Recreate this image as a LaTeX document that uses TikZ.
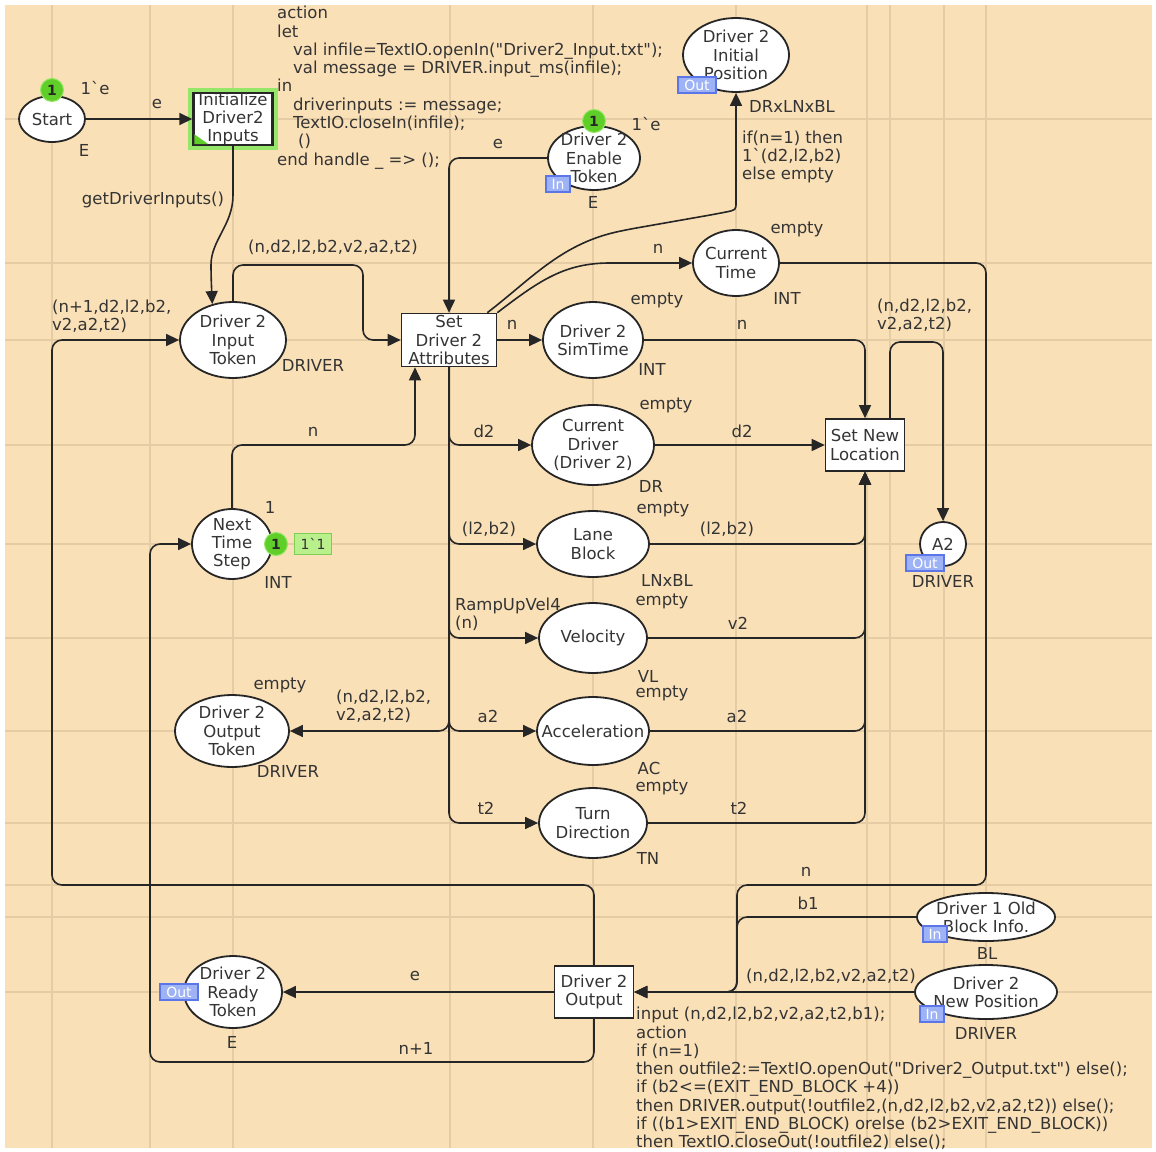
\documentclass[tikz,border=0pt]{standalone}
\usepackage{fontspec}
\setmainfont{DejaVu Sans}
\usetikzlibrary{arrows.meta,shapes.geometric}
\definecolor{paper}{RGB}{250,224,183}
\definecolor{guide}{RGB}{230,204,164}
\definecolor{ink}{RGB}{38,38,38}
\definecolor{txt}{RGB}{52,52,52}
\definecolor{tokgreen}{RGB}{96,206,40}
\definecolor{tokrim}{RGB}{150,230,100}
\definecolor{markfill}{RGB}{186,240,140}
\definecolor{markdraw}{RGB}{128,205,86}
\definecolor{portfill}{RGB}{158,178,246}
\definecolor{portdraw}{RGB}{92,118,232}
\definecolor{glow}{RGB}{150,230,105}
\begin{document}
\begin{tikzpicture}[x=1pt,y=-1pt,
  every node/.style={font=\fontsize{16.5}{18.3}\selectfont,text=txt,inner sep=0pt},
  place/.style={ellipse,draw=ink,line width=1.8pt,fill=white},
  trans/.style={rectangle,draw=ink,line width=1.6pt,fill=white},
  pname/.style={align=center},
  codetext/.style={align=left,anchor=north west},
  conn/.style={draw=ink,line width=1.6pt,rounded corners=10pt,-{Triangle[length=13pt,width=12pt]}},
  token/.style={circle,fill=tokgreen,draw=tokrim,line width=1pt,minimum size=23pt,font=\fontsize{14}{14}\selectfont\bfseries,text=black!85},
  mkbox/.style={rectangle,fill=markfill,draw=markdraw,line width=1pt,minimum width=37pt,minimum height=21pt,font=\fontsize{14}{14}\selectfont,text=black!80},
  port/.style={rectangle,fill=portfill,draw=portdraw,line width=1.2pt,minimum height=16pt,font=\fontsize{14}{14}\selectfont,text=white},
  portout/.style={port,minimum width=38pt},
  portin/.style={port,minimum width=24pt},
]
% sheet and alignment guides
\fill[white] (0,0) rectangle (1156,1151);
\fill[paper] (5,5) rectangle (1152,1148);
\begin{scope}
  \clip (5,5) rectangle (1152,1148);
  \foreach \gx in {52,150,233,450,593,736,867,890,944,986}
    \draw[guide,line width=1.2pt] (\gx,5) -- (\gx,1148);
  \foreach \gy in {119,263,340,445,544,638,731,823,885,917,992}
    \draw[guide,line width=1.2pt] (5,\gy) -- (1152,\gy);
\end{scope}

% places
\node[place,minimum width=66pt,minimum height=46pt,label={[pname]center:Start}] (start) at (52,119) {};
\node[place,minimum width=106pt,minimum height=74pt,label={[pname]center:Driver 2\\Initial\\Position}] (ip) at (736,55) {};
\node[place,minimum width=92pt,minimum height=64pt,label={[pname]center:Driver 2\\Enable\\Token}] (en) at (594,158) {};
\node[place,minimum width=106pt,minimum height=76pt,label={[pname]center:Driver 2\\Input\\Token}] (inp) at (233,340) {};
\node[place,minimum width=86pt,minimum height=66pt,label={[pname]center:Current\\Time}] (ct) at (736,263) {};
\node[place,minimum width=100pt,minimum height=76pt,label={[pname]center:Driver 2\\SimTime}] (sim) at (593,340) {};
\node[place,minimum width=122pt,minimum height=80pt,label={[pname]center:Current\\Driver\\(Driver 2)}] (cdrv) at (593,445) {};
\node[place,minimum width=112pt,minimum height=66pt,label={[pname]center:Lane\\Block}] (lane) at (593,544) {};
\node[place,minimum width=108pt,minimum height=70pt,label={[pname]center:Velocity}] (vel) at (593,638) {};
\node[place,minimum width=112pt,minimum height=68pt,label={[pname]center:Acceleration}] (acc) at (593,731) {};
\node[place,minimum width=108pt,minimum height=70pt,label={[pname]center:Turn\\Direction}] (turn) at (593,823) {};
\node[place,minimum width=46pt,minimum height=44pt,label={[pname]center:A2}] (a2) at (943,544) {};
\node[place,minimum width=80pt,minimum height=70pt,label={[pname]center:Next\\Time\\Step}] (nts) at (232,544) {};
\node[place,minimum width=114pt,minimum height=72pt,label={[pname]center:Driver 2\\Output\\Token}] (dot) at (232,731) {};
\node[place,minimum width=98pt,minimum height=72pt,label={[pname]center:Driver 2\\Ready\\Token}] (rdy) at (233,992) {};
\node[place,minimum width=138pt,minimum height=48pt,label={[pname]center:Driver 1 Old\\Block Info.}] (d1) at (986,917) {};
\node[place,minimum width=142pt,minimum height=54pt,label={[pname]center:Driver 2\\New Position}] (np) at (986,992) {};

% transitions
\node[trans,draw=glow,line width=5pt,minimum width=85pt,minimum height=57pt] (initglow) at (233,119) {};
\node[trans,line width=2.4pt,minimum width=79pt,minimum height=52pt] (init) at (233,119) {};
\fill[tokgreen] ([shift={(2,-2)}]init.south west) -- ++(14,0) -- ++(-14,-10) -- cycle;
\node[pname] (initname) at (233,119) {Initialize\\Driver2\\Inputs};
\node[trans,minimum width=95pt,minimum height=53pt] (attr) at (449,340) {};
\node[pname] (attrname) at (449,340) {Set\\Driver 2\\Attributes};
\node[trans,minimum width=79pt,minimum height=52pt] (snl) at (865,445) {};
\node[pname] (snlname) at (865,445) {Set New\\Location};
\node[trans,minimum width=79pt,minimum height=52pt] (d2out) at (594,992) {};
\node[pname] (d2outname) at (594,992) {Driver 2\\Output};

% arcs
\draw[conn] (start) -- (init);
\draw[conn] (init.south) -- (233,185) .. controls (233,225) and (211,240) .. (211,275) -- (inp.120);
\draw[conn] (inp.north) |- (363,265) |- (attr.west);
\draw[conn] (d2out.north) |- (52,885) |- (inp.west);
\draw[conn] (d2out.south) |- (150,1062) |- (nts.west);
\draw[conn] (nts.north) |- (415,445) -- ([xshift=-34pt]attr.south);
\draw[conn] (en.west) -| (attr.north);
\draw[conn] ([xshift=-10pt]attr.north east) .. controls (530,280) and (560,245) .. (625,230) -- (716,214) .. controls (736,210) .. (736,192) -- (ip.south);
\draw[conn] (attr.north east) .. controls (540,280) and (565,263) .. (620,263) -- (ct.west);
\draw[conn] (attr.east) -- (sim.west);
\draw[conn] (attr.south) |- (cdrv.west);
\draw[conn] (attr.south) |- (lane.west);
\draw[conn] (attr.south) |- (vel.west);
\draw[conn] (attr.south) |- (acc.west);
\draw[conn] (attr.south) |- (turn.west);
\draw[conn] (attr.south) |- (dot.east);
\draw[conn] (sim.east) -| (snl.north);
\draw[conn] (cdrv.east) -- (snl.west);
\draw[conn] (lane.east) -| (snl.south);
\draw[conn] (vel.east) -| (snl.south);
\draw[conn] (acc.east) -| (snl.south);
\draw[conn] (turn.east) -| (snl.south);
\draw[conn] ([xshift=25pt]snl.north) |- (943,342) -- (a2.north);
\draw[conn] (ct.east) -| (986,885) -| (737,992) -- (d2out.east);
\draw[conn] (d1.west) -| (737,992) -- (d2out.east);
\draw[conn] (np.west) -- (d2out.east);
\draw[conn] (d2out.west) -- (rdy.east);

% arc inscriptions
\node (l1) at (157,104) {e};
\node (l2) at (153,200) {getDriverInputs()};
\node (l3) at (333,247) {(n,d2,l2,b2,v2,a2,t2)};
\node[align=left,anchor=west] (l4) at (52,316) {(n+1,d2,l2,b2,\\v2,a2,t2)};
\node (l5) at (498,144) {e};
\node[align=left,anchor=west] (l6) at (742,157) {if(n=1) then\\1\textasciigrave(d2,l2,b2)\\else empty};
\node (l7) at (658,249) {n};
\node (l8) at (512,325) {n};
\node (l9) at (742,325) {n};
\node[align=left,anchor=west] (l10) at (877,315) {(n,d2,l2,b2,\\v2,a2,t2)};
\node (l11) at (484,431) {d2};
\node (l12) at (742,431) {d2};
\node (l13) at (313,432) {n};
\node (l14) at (489,529) {(l2,b2)};
\node (l15) at (727,529) {(l2,b2)};
\node[align=left,anchor=west] (l16) at (455,614) {RampUpVel4\\(n)};
\node (l17) at (738,623) {v2};
\node[align=left,anchor=west] (l18) at (336,706) {(n,d2,l2,b2,\\v2,a2,t2)};
\node (l19) at (488,716) {a2};
\node (l20) at (737,716) {a2};
\node (l21) at (486,808) {t2};
\node (l22) at (739,808) {t2};
\node (l23) at (806,872) {n};
\node (l24) at (808,903) {b1};
\node (l25) at (831,976) {(n,d2,l2,b2,v2,a2,t2)};
\node (l26) at (415,976) {e};
\node (l27) at (416,1048) {n+1};

% place inscriptions: initial markings and colour sets
\node (s1) at (95,88) {1\textasciigrave e};
\node (s2) at (84,150) {E};
\node (s3) at (313,365) {DRIVER};
\node (s4) at (646,124) {1\textasciigrave e};
\node (s5) at (593,202) {E};
\node (s6) at (792,106) {DRxLNxBL};
\node (s7) at (797,229) {empty};
\node (s8) at (787,298) {INT};
\node (s9) at (657,300) {empty};
\node (s10) at (652,369) {INT};
\node (s11) at (666,405) {empty};
\node (s12) at (651,486) {DR};
\node (s13) at (663,509) {empty};
\node (s14) at (667,580) {LNxBL};
\node (s15) at (662,601) {empty};
\node (s16) at (648,676) {VL};
\node (s17) at (662,693) {empty};
\node (s18) at (649,768) {AC};
\node (s19) at (662,787) {empty};
\node (s20) at (648,858) {TN};
\node (s21) at (270,507) {1};
\node (s22) at (278,582) {INT};
\node (s23) at (280,685) {empty};
\node (s24) at (288,771) {DRIVER};
\node (s25) at (943,581) {DRIVER};
\node (s26) at (987,953) {BL};
\node (s27) at (986,1033) {DRIVER};
\node (s28) at (232,1042) {E};

% port tags
\node[portout] (ipout) at (697,85) {Out};
\node[portin] (enin) at (558,184) {In};
\node[portout] (a2out) at (925,563) {Out};
\node[portin] (d1in) at (935,934) {In};
\node[portin] (npin) at (932,1014) {In};
\node[portout] (rdyout) at (179,992) {Out};

% current markings
\node[token] (tk1) at (52,90) {1};
\node[token] (tk2) at (594,121) {1};
\node[token] (tk3) at (276,544) {1};
\node[mkbox] (mk3) at (313,544) {1\textasciigrave 1};

% code segments
\node[codetext] (code1) at (277,6) {action\\
let\\
\hspace*{16pt}val infile=TextIO.openIn(\textquotedbl Driver2\_Input.txt\textquotedbl);\\
\hspace*{16pt}val message = DRIVER.input\_ms(infile);\\
in\\
\hspace*{16pt}driverinputs := message;\\
\hspace*{16pt}TextIO.closeIn(infile);\\
\hspace*{21pt}()\\
end handle \_ => ();};
\node[codetext] (code2) at (636,1007) {input (n,d2,l2,b2,v2,a2,t2,b1);\\
action\\
if (n=1)\\
then outfile2:=TextIO.openOut(\textquotedbl Driver2\_Output.txt\textquotedbl) else();\\
if (b2<=(EXIT\_END\_BLOCK +4))\\
then DRIVER.output(!outfile2,(n,d2,l2,b2,v2,a2,t2)) else();\\
if ((b1>EXIT\_END\_BLOCK) orelse (b2>EXIT\_END\_BLOCK))\\
then TextIO.closeOut(!outfile2) else();};
\end{tikzpicture}
\end{document}
